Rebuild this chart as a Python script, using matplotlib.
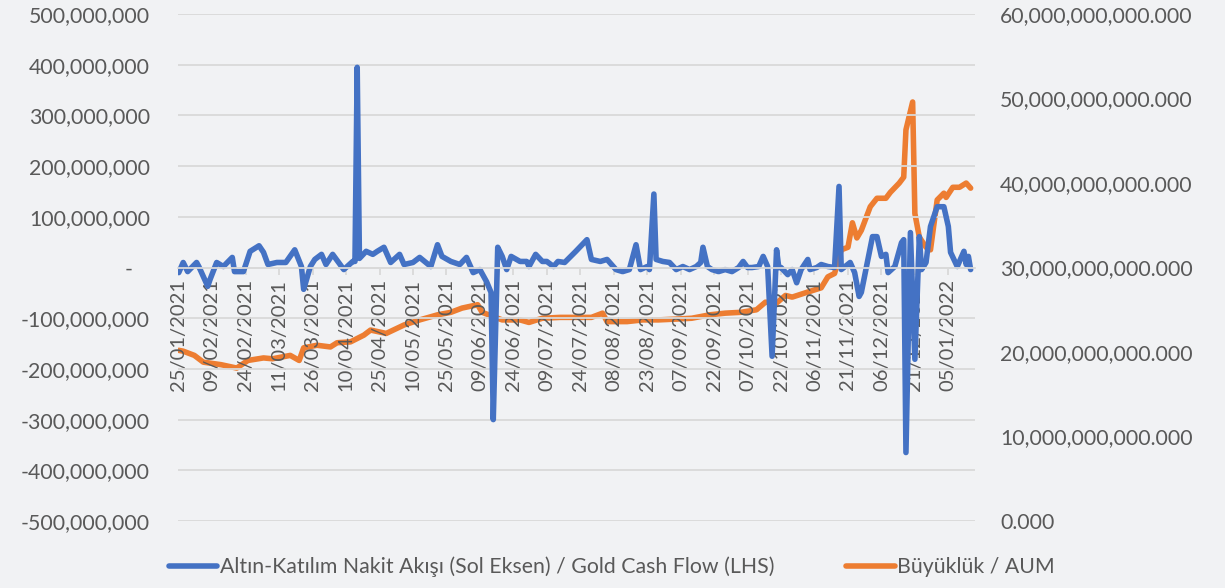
import numpy as np
import pandas as pd
import matplotlib
matplotlib.use("Agg")
import matplotlib.pyplot as plt
import matplotlib.dates as mdates
from matplotlib.ticker import FuncFormatter, MultipleLocator

plt.rcParams['font.family'] = ['Lato', 'DejaVu Sans']

start_date = "2021-01-25"

# Gold cash flow (left axis, TRY) -- days since start, value in millions
flow_days = [0, 2, 4, 8, 9, 13, 14, 17, 20, 24, 25, 29, 32, 36, 38, 40, 44, 48, 52, 55,
             56, 59, 61, 64, 66, 69, 74, 78, 79, 80, 81, 84, 87, 89, 92, 95, 99, 101, 105, 108,
             113, 116, 118, 122, 126, 129, 132, 135, 138, 140, 141, 143, 145, 147, 149, 153, 156, 157, 160, 163,
             165, 168, 170, 173, 178, 183, 185, 189, 192, 196, 199, 202, 205, 207, 210, 211, 213, 214, 217, 220,
             223, 226, 229, 232, 234, 235, 237, 239, 242, 245, 248, 251, 253, 255, 257, 260, 262, 264, 266, 268,
             269, 270, 273, 275, 277, 279, 282, 283, 286, 288, 291, 294, 296, 297, 301, 303, 305, 306, 311, 313,
             315, 317, 318, 321, 324, 325, 326, 328, 330, 332, 333, 335, 337, 340, 343, 345, 346, 349, 352, 353,
             354, 355]
flow_mn = [-10, 10, -8, 10, 2, -37, -24, 10, 2, 20, -8, -8, 32, 43, 30, 6, 10, 10, 35, 2,
           -43, 2, 16, 26, 6, 26, -4, 12, 12, 395, 18, 32, 26, 32, 40, 10, 26, 6, 10, 20,
           2, 45, 22, 12, 6, 20, -10, -4, -28, -49, -300, 40, 22, -4, 22, 12, 12, 2, 26, 12,
           12, 2, 12, 10, 32, 55, 16, 12, 16, -4, -8, -4, 45, -4, 2, -4, 145, 16, 12, 10,
           -4, 2, -4, 2, 10, 40, 2, -4, -8, -4, -8, 0, 12, 0, 0, 2, 22, 2, -175, 35,
           0, 0, -14, -4, -30, -4, 16, -4, 0, 6, 2, 0, 160, -4, 10, -10, -57, -49, 61, 61,
           22, 26, -10, 2, 49, 55, -365, 69, -181, 61, -4, 10, 81, 120, 120, 81, 30, 2, 32, 6,
           22, -4]

# AUM (right axis, TRY) -- days since start, value in billions
aum_days = [0, 2, 7, 11, 19, 26, 31, 38, 42, 50, 54, 56, 62, 68, 71, 77, 83, 86, 93, 101,
            108, 116, 122, 127, 134, 136, 139, 145, 153, 157, 163, 171, 178, 185, 190, 192, 201, 208, 215, 223,
            230, 238, 245, 252, 259, 263, 268, 272, 275, 282, 288, 291, 294, 297, 300, 302, 304, 306, 310, 313,
            317, 319, 323, 325, 326, 329, 330, 332, 335, 337, 340, 343, 344, 347, 350, 353, 355]
aum_bn = [20.2, 20.1, 19.6, 18.8, 18.5, 18.1, 19.0, 19.3, 19.2, 19.6, 19.0, 20.5, 20.8, 20.6, 21.1, 21.2, 22.0, 22.6, 22.2, 23.2,
          23.8, 24.4, 24.7, 25.2, 25.6, 24.7, 24.4, 23.8, 23.8, 23.5, 24.0, 24.1, 24.1, 24.1, 24.6, 23.6, 23.6, 23.8, 23.8, 23.9,
          24.0, 24.4, 24.6, 24.7, 25.0, 25.9, 25.8, 26.7, 26.5, 27.1, 27.6, 28.9, 29.3, 32.1, 32.4, 35.3, 33.5, 34.4, 37.2, 38.2,
          38.2, 38.9, 40.0, 40.7, 46.3, 49.6, 36.4, 33.6, 32.4, 32.1, 38.0, 38.8, 38.3, 39.5, 39.5, 40.0, 39.4]

label_flow = "Altın-Katılım Nakit Akışı (Sol Eksen) / Gold Cash Flow (LHS)"
label_aum = "Büyüklük / AUM"

t0 = pd.Timestamp(start_date)
flow_dates = t0 + pd.to_timedelta(flow_days, unit="D")
aum_dates = t0 + pd.to_timedelta(aum_days, unit="D")
flow_vals = np.array(flow_mn) * 1e6
aum_vals = np.array(aum_bn) * 1e9

BLUE = "#4472C4"
ORANGE = "#ED7D31"
TXT = "#595959"
GRID = "#d9d9d9"
BG = "#f1f2f4"
FS = 15.3

fig = plt.figure(figsize=(12.25, 5.88), dpi=100, facecolor=BG)
ax = fig.add_axes([0.145, 0.114, 0.651, 0.862])
ax.set_facecolor("none")
ax2 = ax.twinx()
ax.set_zorder(ax2.get_zorder() + 1)

l1, = ax.plot(flow_dates, flow_vals, color=BLUE, lw=4, solid_joinstyle="round", solid_capstyle="round")
l2, = ax2.plot(aum_dates, aum_vals, color=ORANGE, lw=4, solid_joinstyle="round", solid_capstyle="round")

ax.set_ylim(-5e8, 5e8)
ax.yaxis.set_major_locator(MultipleLocator(1e8))
ax.yaxis.set_major_formatter(FuncFormatter(lambda v, p: "-   " if abs(v) < 1 else f"{v:,.0f}"))
ax2.set_ylim(0, 60e9)
ax2.yaxis.set_major_locator(MultipleLocator(10e9))
ax2.yaxis.set_major_formatter(FuncFormatter(lambda v, p: f"{v:,.3f}"))

ax.grid(axis="y", color=GRID, lw=1.3)
ax.set_axisbelow(True)

xmin = t0 - pd.Timedelta(days=0.5)
xmax = t0 + pd.Timedelta(days=357)
ax.set_xlim(xmin, xmax)

ticks = pd.date_range(t0, t0 + pd.Timedelta(days=346), freq="15D")
ax.set_xticks(ticks)
ax.xaxis.set_major_formatter(mdates.DateFormatter("%d/%m/%Y"))
ax.spines["bottom"].set_position(("data", 0))
ax.spines["bottom"].set_color(GRID)
ax.spines["bottom"].set_linewidth(1.3)
for s in ["top", "left", "right"]:
    ax.spines[s].set_visible(False)
for s in ["top", "left", "right", "bottom"]:
    ax2.spines[s].set_visible(False)

ax.tick_params(axis="x", rotation=90, labelsize=14.5, colors=TXT, color=GRID, length=5, width=1.3, pad=3)
ax.tick_params(axis="y", labelsize=FS, colors=TXT, length=0, pad=20)
ax2.tick_params(axis="y", labelsize=FS, colors=TXT, length=0, pad=18)

fig.legend([l1, l2], [label_flow, label_aum], loc="lower left", bbox_to_anchor=(0.122, -0.014),
           ncol=2, frameon=False, fontsize=FS, labelcolor=TXT, handlelength=2.3,
           handletextpad=0.1, columnspacing=3.4)

fig.savefig("out.png", dpi=100, facecolor=BG)
